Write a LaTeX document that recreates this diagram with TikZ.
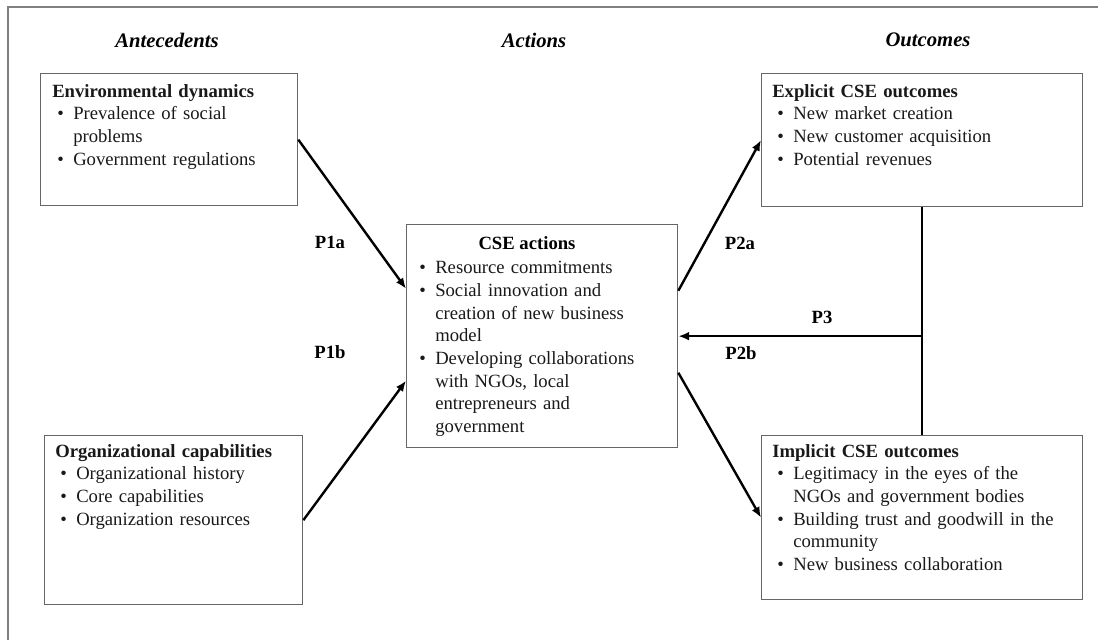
\documentclass[tikz,border=0pt]{standalone}
\usepackage{fontspec}
\setmainfont{Liberation Serif}
\usetikzlibrary{arrows.meta,calc}
\newcommand{\bitem}[1]{\par\noindent\hangindent=15.75pt\hangafter=1\hspace*{3.75pt}\makebox[12pt][l]{\textbullet}\strut#1\strut}
\begin{document}
\begin{tikzpicture}[x=0.75pt,y=-0.75pt,
  box/.style={draw=black!60, line width=1pt, inner sep=0pt, anchor=north west},
  txt/.style={inner sep=0pt, anchor=north west, font=\fontsize{14}{17}\selectfont\raggedright, text=black!90},
  hdr/.style={inner sep=0pt, font=\fontsize{15.5}{18}\selectfont\bfseries\itshape},
  lbl/.style={inner sep=0pt, font=\fontsize{14}{17}\selectfont\bfseries},
  arr/.style={line width=1.8pt, -{Latex[length=8pt,width=6.5pt]}},
  ln/.style={line width=1.8pt}]
\useasboundingbox (0,0) rectangle (1098,640);
\draw[black!50, line width=1.2pt] (8,640) -- (8,7) -- (1098,7);

% headers
\node[hdr] (h1) at (167,40) {Antecedents};
\node[hdr] (h2) at (534,40) {Actions};
\node[hdr] (h3) at (928,40) {Outcomes};

% boxes
\node[box, minimum width=192.75pt, minimum height=99pt] (env) at (40,73) {};
\node[box, minimum width=193.5pt, minimum height=126.75pt] (org) at (44,435) {};
\node[box, minimum width=203.25pt, minimum height=167.25pt] (cse) at (406,224) {};
\node[box, minimum width=240.75pt, minimum height=99.75pt] (exp) at (761,73) {};
\node[box, minimum width=240.75pt, minimum height=123pt] (imp) at (761,435) {};

% texts
\node[txt, text width=185pt] (envt) at (52,81) {\strut\textbf{Environmental dynamics}\bitem{Prevalence of social\newline problems}\bitem{Government regulations}\par};
\node[txt, text width=185pt] (orgt) at (55,441) {\strut\textbf{Organizational capabilities}\bitem{Organizational history}\bitem{Core capabilities}\bitem{Organization resources}\par};
\node[lbl] (cset) at (527,243) {CSE actions};
\node[txt, text width=195pt] (csei) at (414,251) {\bitem{Resource commitments}\bitem{Social innovation and\newline creation of new business\newline model}\bitem{Developing collaborations\newline with NGOs, local\newline entrepreneurs and\newline government}\par};
\node[txt, text width=230pt] (expt) at (772,81) {\strut\textbf{Explicit CSE outcomes}\bitem{New market creation}\bitem{New customer acquisition}\bitem{Potential revenues}\par};
\node[txt, text width=230pt] (impt) at (772,441) {\strut\textbf{Implicit CSE outcomes}\bitem{Legitimacy in the eyes of the\newline NGOs and government bodies}\bitem{Building trust and goodwill in the\newline community}\bitem{New business collaboration}\par};

% connectors
\draw[arr] (env.east) -- ([yshift=35.6pt]cse.west);
\draw[arr] (org.east) -- ([yshift=-33.4pt]cse.west);
\draw[arr] ([yshift=34.1pt]cse.east) -- (exp.west);
\draw[arr] ([yshift=-27.4pt]cse.east) -- (imp.west);
\draw[ln] (exp.south) -- (imp.north);
\coordinate (j) at (exp.south |- cse.east);
\draw[arr] (j) -- (cse.east);

% labels
\node[lbl] (p1a) at (330,242) {P1a};
\node[lbl] (p1b) at (330,352) {P1b};
\node[lbl] (p2a) at (740,243) {P2a};
\node[lbl] (p2b) at (741,353) {P2b};
\node[lbl] (p3) at (822,317) {P3};
\end{tikzpicture}
\end{document}
